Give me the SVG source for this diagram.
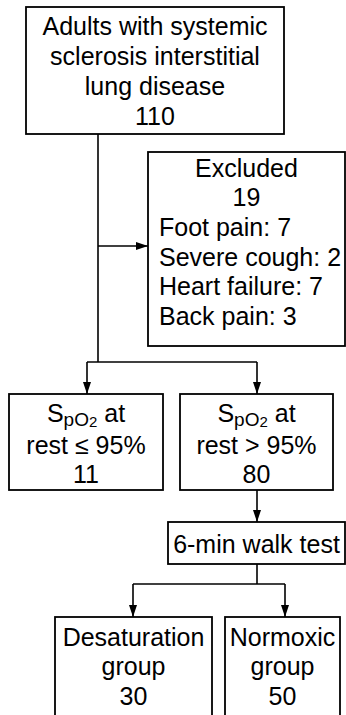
<svg xmlns="http://www.w3.org/2000/svg" width="346" height="715" viewBox="0 0 346 715">
<style>
  .box { fill: #ffffff; stroke: #000000; stroke-width: 1.8; }
  .t { font-family: "Liberation Sans", Arial, sans-serif; font-size: 25px; fill: #000000; }
  .c { text-anchor: middle; }
  .ln { fill: none; stroke: #000000; stroke-width: 1.6; }
</style>
<defs>
  <marker id="arr" markerUnits="userSpaceOnUse" markerWidth="12" markerHeight="8" refX="12" refY="4" orient="auto">
    <path d="M0,0 L12,4 L0,8 z" fill="#000000"/>
  </marker>
</defs>
<rect width="346" height="715" fill="#ffffff"/>
<g id="connectors">
  <path class="ln" d="M98,134 V362"/>
  <path class="ln" d="M98,246 H148" marker-end="url(#arr)"/>
  <path class="ln" d="M87,362 H257"/>
  <path class="ln" d="M87,362 V394" marker-end="url(#arr)"/>
  <path class="ln" d="M257,362 V394" marker-end="url(#arr)"/>
  <path class="ln" d="M257,490 V522" marker-end="url(#arr)"/>
  <path class="ln" d="M257,564 V584"/>
  <path class="ln" d="M133,584 H285"/>
  <path class="ln" d="M133,584 V617" marker-end="url(#arr)"/>
  <path class="ln" d="M285,584 V617" marker-end="url(#arr)"/>
</g>
<g id="population">
  <rect class="box" x="26" y="7" width="258" height="127"/>
  <text class="t c" x="155" y="34.5">Adults with systemic</text>
  <text class="t c" x="155" y="64.5">sclerosis interstitial</text>
  <text class="t c" x="155" y="94.5">lung disease</text>
  <text class="t c" x="155" y="124.5">110</text>
</g>
<g id="excluded">
  <rect class="box" x="148" y="152" width="197" height="194"/>
  <text class="t c" x="246.5" y="176.5">Excluded</text>
  <text class="t c" x="246.5" y="206">19</text>
  <text class="t" x="159" y="236">Foot pain: 7</text>
  <text class="t" x="159" y="265.5">Severe cough: 2</text>
  <text class="t" x="159" y="295">Heart failure: 7</text>
  <text class="t" x="159" y="325">Back pain: 3</text>
</g>
<g id="low-spo2">
  <rect class="box" x="9" y="394" width="154" height="96"/>
  <text class="t c" x="86" y="421.5">S<tspan font-size="19" dy="4">pO</tspan><tspan font-size="15" dy="1.5">2</tspan><tspan dy="-5.5"> at</tspan></text>
  <text class="t c" x="86" y="453.5">rest ≤ 95%</text>
  <text class="t c" x="86" y="483">11</text>
</g>
<g id="high-spo2">
  <rect class="box" x="180" y="394" width="153" height="96"/>
  <text class="t c" x="256.5" y="421.5">S<tspan font-size="19" dy="4">pO</tspan><tspan font-size="15" dy="1.5">2</tspan><tspan dy="-5.5"> at</tspan></text>
  <text class="t c" x="256.5" y="453.5">rest &gt; 95%</text>
  <text class="t c" x="256.5" y="483">80</text>
</g>
<g id="walk-test">
  <rect class="box" x="168" y="522" width="177" height="42"/>
  <text class="t c" x="256.5" y="552.5">6-min walk test</text>
</g>
<g id="desaturation">
  <rect class="box" x="55" y="617" width="157" height="110"/>
  <text class="t c" x="133.5" y="646">Desaturation</text>
  <text class="t c" x="133.5" y="675">group</text>
  <text class="t c" x="133.5" y="705">30</text>
</g>
<g id="normoxic">
  <rect class="box" x="225" y="617" width="115" height="110"/>
  <text class="t c" x="282.5" y="646">Normoxic</text>
  <text class="t c" x="282.5" y="675">group</text>
  <text class="t c" x="282.5" y="705">50</text>
</g>
</svg>
